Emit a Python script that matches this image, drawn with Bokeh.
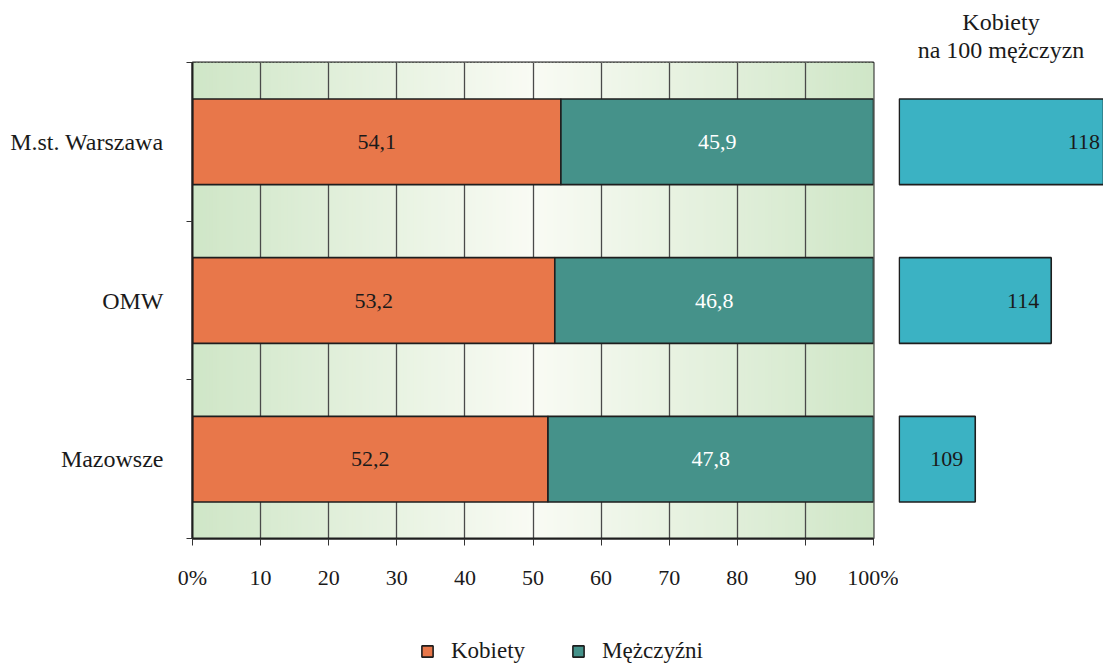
import numpy as np
from bokeh.plotting import figure
from bokeh.models import ColumnDataSource, FixedTicker, Legend, LegendItem, LabelSet, Title
from bokeh.layouts import row, column
from bokeh.embed import file_html
from bokeh.resources import INLINE
from bokeh.core.properties import value

# ---------------- data ----------------
categories = ["Mazowsze", "OMW", "M.st. Warszawa"]
women_pct = [52.2, 53.2, 54.1]
men_pct = [47.8, 46.8, 45.9]
women_per_100_men = [109, 114, 118]
x_ticks = [0, 10, 20, 30, 40, 50, 60, 70, 80, 90, 100]
x_tick_labels = ["0%", "10", "20", "30", "40", "50", "60", "70", "80", "90", "100%"]
legend_labels = ["Kobiety", "Mężczyźni"]
ratio_title = ["Kobiety", "na 100 mężczyzn"]

# ---------------- style ----------------
FONT = "Liberation Serif"
ORANGE = "#E8774A"
TEAL = "#45928A"
CYAN = "#3BB2C3"
EDGE = "#1E1E1E"
TXT = "#1a1a1a"
BAR_H = 0.54
RATIO_BASE = 104

def fmt(v):
    return f"{v:.1f}".replace(".", ",")

ypos = [i + 0.5 for i in range(len(categories))]
src = ColumnDataSource(dict(
    y=ypos,
    w=women_pct,
    tot=[a + b for a, b in zip(women_pct, men_pct)],
    wmid=[a / 2 for a in women_pct],
    mmid=[a + b / 2 for a, b in zip(women_pct, men_pct)],
    wlab=[fmt(v) for v in women_pct],
    mlab=[fmt(v) for v in men_pct],
    r=women_per_100_men,
    rlab=[str(v) for v in women_per_100_men],
))

# ---------------- left panel ----------------
p = figure(width=898, height=600, x_range=(0, 100), y_range=(0, len(categories)),
           output_backend="svg", toolbar_location=None, title=None,
           min_border_left=192, min_border_right=25, min_border_top=62, min_border_bottom=62)
p.background_fill_color = "white"
p.border_fill_color = "white"
p.outline_line_color = EDGE
p.outline_line_width = 2

# gradient background (decoration)
n = 200
edges = np.linspace(0, 100, n + 1)
mid = (edges[:-1] + edges[1:]) / 2
t = 1 - np.abs(mid - 50) / 50
c0 = np.array([207, 230, 199])
c1 = np.array([249, 251, 244])
cols = ["#%02x%02x%02x" % tuple(int(round(v)) for v in (c0 + (c1 - c0) * tt)) for tt in t]
bg = p.quad(left=edges[:-1], right=edges[1:] + 0.25, bottom=0, top=len(categories),
            fill_color=cols, line_color=None)
bg.level = "image"

p.xgrid.grid_line_color = "#4a4a4a"
p.xgrid.grid_line_width = 1.3
p.ygrid.visible = False

women_r = p.hbar(y="y", left=0, right="w", height=BAR_H, fill_color=ORANGE,
                 line_color=EDGE, line_width=1.6, source=src)
men_r = p.hbar(y="y", left="w", right="tot", height=BAR_H, fill_color=TEAL,
               line_color=EDGE, line_width=1.6, source=src)

p.text(x="wmid", y="y", text="wlab", source=src, text_font=value(FONT),
       text_font_size="22px", text_align="center", text_baseline="middle", text_color=TXT)
p.text(x="mmid", y="y", text="mlab", source=src, text_font=value(FONT),
       text_font_size="22px", text_align="center", text_baseline="middle", text_color="white")

xa = p.xaxis[0]
xa.ticker = FixedTicker(ticks=x_ticks)
xa.major_label_overrides = {t_: l for t_, l in zip(x_ticks, x_tick_labels)}
xa.major_tick_out = 7
xa.major_tick_in = 0
xa.minor_tick_out = 0
xa.major_tick_line_color = "#333333"
xa.axis_line_color = EDGE
xa.axis_line_width = 2
xa.major_label_standoff = 19
xa.major_label_text_font = FONT
xa.major_label_text_font_size = "22px"
xa.major_label_text_color = TXT

ya = p.yaxis[0]
ya.ticker = FixedTicker(ticks=ypos, minor_ticks=list(range(len(categories) + 1)))
ya.major_label_overrides = {y_: c for y_, c in zip(ypos, categories)}
ya.major_tick_out = 0
ya.major_tick_in = 0
ya.minor_tick_out = 6
ya.minor_tick_in = 0
ya.minor_tick_line_color = "#333333"
ya.axis_line_color = EDGE
ya.axis_line_width = 2
ya.major_label_standoff = 23
ya.major_label_text_font = FONT
ya.major_label_text_font_size = "24px"
ya.major_label_text_color = TXT

# ---------------- right panel ----------------
q = figure(width=205, height=600, x_range=(103.95, 117.44), y_range=(0, len(categories)),
           output_backend="svg", toolbar_location=None, title=None,
           x_axis_location=None, y_axis_location=None,
           min_border_left=0, min_border_right=0, min_border_top=62, min_border_bottom=62)
q.outline_line_color = None
q.background_fill_color = "white"
q.border_fill_color = "white"
q.grid.visible = False

q.hbar(y="y", left=RATIO_BASE, right="r", height=BAR_H, fill_color=CYAN,
       line_color=EDGE, line_width=1.6, source=src)
q.add_layout(LabelSet(x="r", y="y", text="rlab", source=src, x_offset=-12,
                      text_align="right", text_baseline="middle",
                      text_font=value(FONT), text_font_size="22px", text_color=TXT))
for line in reversed(ratio_title):
    q.add_layout(Title(text=line, align="center", offset=0, standoff=0,
                       text_font=FONT, text_font_size="24px", text_font_style="normal",
                       text_color=TXT), "above")

# ---------------- legend strip ----------------
# hidden proxy renderers (same data) that only supply the legend swatches
lf = figure(width=1103, height=68, output_backend="svg", toolbar_location=None, title=None,
            x_range=(1000, 1100), y_range=(-200, -190),
            x_axis_location=None, y_axis_location=None,
            min_border_left=0, min_border_right=0, min_border_top=0, min_border_bottom=0)
lf.outline_line_color = None
lf.grid.visible = False
lf.background_fill_color = "white"
lf.border_fill_color = "white"
lw = lf.hbar(y="y", left=0, right="w", height=BAR_H, fill_color=ORANGE,
             line_color=EDGE, line_width=1.6, source=src)
lm = lf.hbar(y="y", left="w", right="tot", height=BAR_H, fill_color=TEAL,
             line_color=EDGE, line_width=1.6, source=src)
lw.visible = False
lm.visible = False
legend = Legend(items=[LegendItem(label=legend_labels[0], renderers=[lw]),
                       LegendItem(label=legend_labels[1], renderers=[lm])],
                orientation="horizontal", location=(420, 4),
                glyph_width=14, glyph_height=14, label_standoff=17, spacing=46,
                padding=0, margin=0, border_line_color=None, background_fill_alpha=0,
                inactive_fill_alpha=0,
                label_text_font=FONT, label_text_font_size="23px", label_text_color=TXT)
lf.add_layout(legend)

layout = column(row(p, q), lf)
open("out.html", "w").write(file_html(layout, INLINE))
